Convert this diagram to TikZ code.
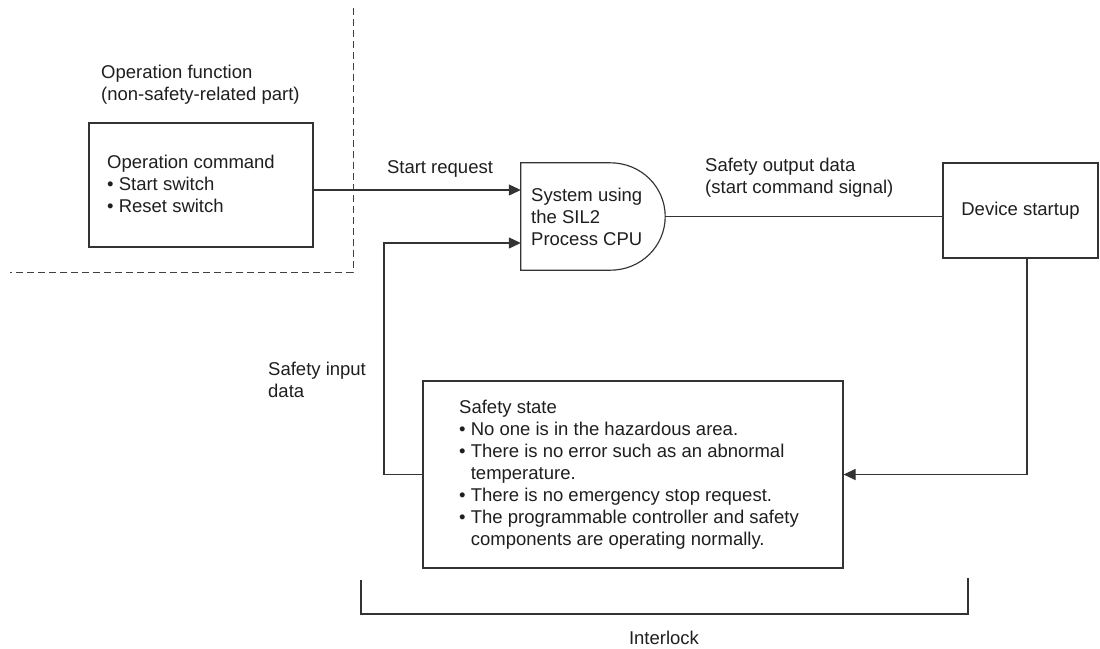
\documentclass[tikz,border=0pt]{standalone}
\usepackage{fontspec}
\setmainfont{Liberation Sans}
\usetikzlibrary{arrows.meta,calc}
\begin{document}
\begin{tikzpicture}[x=1pt,y=-1pt,
  every node/.style={font=\fontsize{18.5}{22}\selectfont, text=black!88},
  ln/.style={line width=1.15pt, draw=black!80},
  arr/.style={ln, -{Triangle[length=12pt,width=11pt]}},
  boxn/.style={ln, rectangle, inner sep=0pt},
  txt/.style={align=left, inner sep=0pt, anchor=west},
  dsh/.style={line width=1pt, draw=black!75, dash pattern=on 7pt off 4pt}]
\useasboundingbox[fill=white] (0,0) rectangle (1100,648);
% dashed boundary
\coordinate (d1) at (353,8);
\coordinate (d2) at (353,272);
\coordinate (d3) at (10,272);
\draw[dsh] (d1) -- (d2) -- (d3);
% nodes
\node[txt] (opf) at (101,84.5) {Operation function\\(non-safety-related part)};
\node[boxn, draw, minimum width=224pt, minimum height=124pt] (op) at (201,185) {};
\node[txt] (opt) at (107,183.5) {Operation command\\\textbullet\ Start switch\\\textbullet\ Reset switch};
% system D shape
\node[minimum width=144pt, minimum height=107pt, inner sep=0pt] (sys) at (593,216.5) {};
\draw[ln] (sys.east) .. controls ($(sys.east)+(0,-29.5)$) and ($(sys.north east)+(-24,0)$) .. ($(sys.north east)+(-55,0)$)
  -- (sys.north west) -- (sys.south west) -- ($(sys.south east)+(-55,0)$)
  .. controls ($(sys.south east)+(-24,0)$) and ($(sys.east)+(0,29.5)$) .. (sys.east);
\node[txt] (syst) at (531,217) {System using\\the SIL2\\Process CPU};
\node[boxn, draw, minimum width=155pt, minimum height=95pt] (dev) at (1020.5,210.5) {Device startup};
\node[boxn, draw, minimum width=420pt, minimum height=187pt] (safe) at (633,474.5) {};
\node[txt] (safet) at (459,475) {Safety state\\
\textbullet\ No one is in the hazardous area.\\
\textbullet\ There is no error such as an abnormal\\
\phantom{\textbullet\ }temperature.\\
\textbullet\ There is no emergency stop request.\\
\textbullet\ The programmable controller and safety\\
\phantom{\textbullet\ }components are operating normally.};
% labels
\node (lsr) at (440,169) {Start request};
\node[txt] (lso) at (705,178) {Safety output data\\(start command signal)};
\node[txt] (lsi) at (268,380) {Safety input\\data};
% connectors
\draw[arr] ([yshift=-5pt]op.east) -- ([yshift=-5pt]op.east -| sys.west);
\coordinate (cin) at (384,243);
\draw[arr] (safe.west) -| (cin) -- (cin -| sys.west);
\draw[ln] (sys.east) -- (sys.east -| dev.west);
\draw[arr] ([xshift=6.5pt]dev.south) |- (safe.east);
% interlock bracket
\coordinate (b1) at (361,580);
\coordinate (b2) at (361,614);
\coordinate (b3) at (968,614);
\coordinate (b4) at (968,578);
\draw[ln] (b1) -- (b2) -- (b3) -- (b4);
\node (il) at (664,638) {Interlock};
\end{tikzpicture}
\end{document}
